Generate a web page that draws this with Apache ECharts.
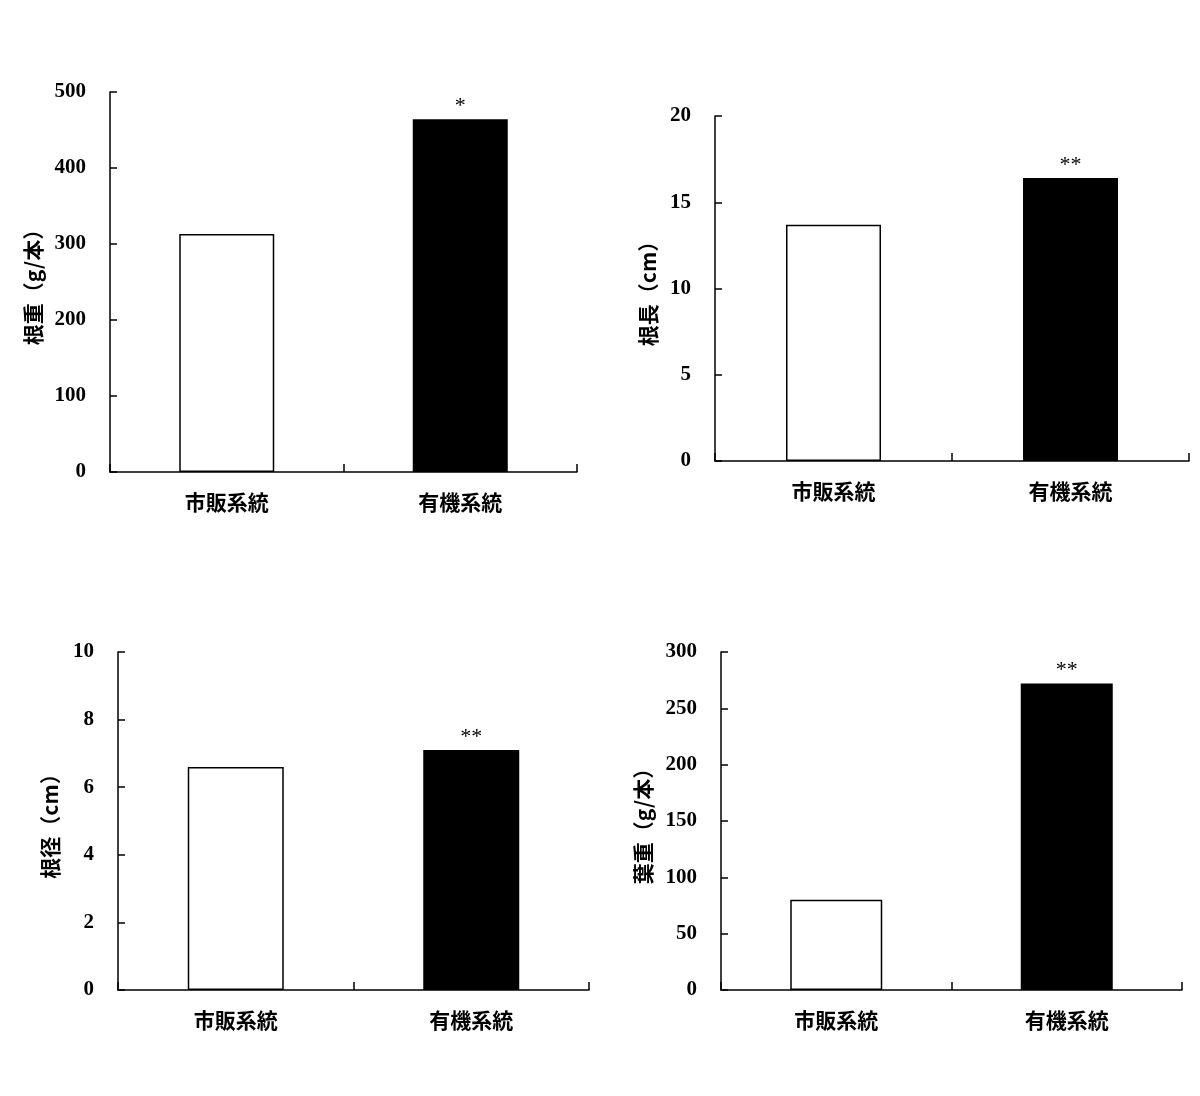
<!DOCTYPE html>
<html>
<head>
<meta charset="utf-8">
<title>根重・根長・根径・葉重</title>
<script src="https://cdn.jsdelivr.net/npm/echarts@6/dist/echarts.min.js"></script>
<style>
	html, body {
		margin: 0;
		padding: 0;
		background: #fff;
	}
	#main {
		width: 1200px;
		height: 1096px;
	}
</style>
</head>
<body>
<div id="main"></div>
<script>
	var categories = ['市販系統', '有機系統'];
	var barColors = ['#ffffff', '#000000'];

	var rootWeight = [313, 464];
	var rootLength = [13.7, 16.4];
	var rootDiameter = [6.6, 7.1];
	var leafWeight = [80, 272];

	var rootWeightSig = ['', '*'];
	var rootLengthSig = ['', '**'];
	var rootDiameterSig = ['', '**'];
	var leafWeightSig = ['', '**'];

	var names = ['根重（g/本）', '根長（cm）', '根径（cm）', '葉重（g/本）'];
	var yMax = [500, 20, 10, 300];
	var yStep = [100, 5, 2, 50];

	// panel boxes: left, top, width, height
	var boxes = [
		[110, 92, 467, 380],
		[715, 116, 474, 345],
		[118, 652, 471, 338],
		[721, 652, 461, 338]
	];
	var nameGaps = [66, 56, 57, 67];
	var barWidths = [95, 95, 96, 92];

	var panels = [
		{ values: rootWeight, sig: rootWeightSig },
		{ values: rootLength, sig: rootLengthSig },
		{ values: rootDiameter, sig: rootDiameterSig },
		{ values: leafWeight, sig: leafWeightSig }
	];

	var grid = [], xAxis = [], yAxis = [], series = [];
	panels.forEach(function(p, i) {
		var b = boxes[i];
		grid.push({ left: b[0], top: b[1], width: b[2], height: b[3], containLabel: false });
		xAxis.push({
			type: 'category',
			gridIndex: i,
			data: categories,
			axisLine: { lineStyle: { color: '#000', width: 1.5 } },
			axisTick: { show: true, inside: true, length: 8, lineStyle: { color: '#000', width: 1.5 } },
			axisLabel: {
				color: '#000',
				fontSize: 21,
				fontWeight: 'bold',
				fontFamily: 'Noto Sans CJK JP',
				margin: 20
			}
		});
		yAxis.push({
			type: 'value',
			gridIndex: i,
			min: 0,
			max: yMax[i],
			interval: yStep[i],
			name: names[i],
			nameLocation: 'middle',
			nameRotate: 90,
			nameGap: nameGaps[i],
			nameTextStyle: {
				color: '#000',
				fontSize: 21,
				fontWeight: 'bold',
				fontFamily: 'Noto Sans CJK JP'
			},
			axisLine: { show: true, lineStyle: { color: '#000', width: 1.5 } },
			axisTick: { show: true, inside: true, length: 7, lineStyle: { color: '#000', width: 1.5 } },
			splitLine: { show: false },
			axisLabel: {
				color: '#000',
				fontSize: 21,
				fontWeight: 'bold',
				fontFamily: 'Liberation Serif',
				margin: 24,
				padding: [5, 0, 0, 0]
			}
		});
		series.push({
			type: 'bar',
			xAxisIndex: i,
			yAxisIndex: i,
			barWidth: barWidths[i],
			data: p.values.map(function(v, k) {
				return {
					value: v,
					itemStyle: { color: barColors[k], borderColor: '#000', borderWidth: 1.5 }
				};
			}),
			label: {
				show: true,
				position: 'top',
				distance: 2,
				color: '#000',
				fontSize: 22,
				fontFamily: 'Liberation Serif',
				formatter: function(params) {
					return p.sig[params.dataIndex];
				}
			},
			emphasis: { disabled: true },
			animation: false
		});
	});

	var chart = echarts.init(document.getElementById('main'), null, { renderer: 'canvas' });
	chart.setOption({
		backgroundColor: '#fff',
		animation: false,
		grid: grid,
		xAxis: xAxis,
		yAxis: yAxis,
		series: series
	});
</script>
</body>
</html>
